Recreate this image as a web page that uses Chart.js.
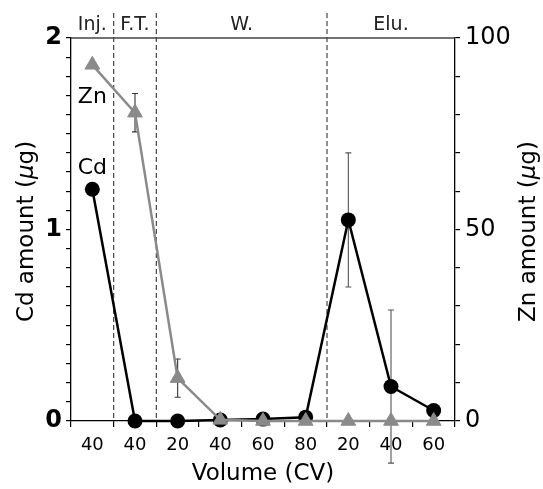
<!DOCTYPE html>
<html>
<head>
<meta charset="utf-8">
<script src="https://cdn.jsdelivr.net/npm/chart.js@4.4.0/dist/chart.umd.min.js"></script>
<style>
  html, body { margin: 0; padding: 0; background: #fff; }
  canvas { display: block; }
</style>
</head>
<body>
<canvas id="chart" width="543" height="489"></canvas>
<script>
// categories (volume in CV) and the run sections they belong to
const categories = ['40', '40', '20', '40', '60', '80', '20', '40', '60'];
const sectionNames = ['Inj.', 'F.T.', 'W.', 'Elu.'];
const sectionFirst = [0, 1, 2, 6];
const sectionLast = [0, 1, 5, 8];

// Cd amount (µg), left axis
const cdValues = [1.21, 0, 0, 0.005, 0.01, 0.02, 1.05, 0.18, 0.055];
const cdErrors = [0, 0, 0, 0, 0, 0, 0.35, 0.4, 0];

// Zn amount (µg), right axis
const znValues = [93, 80.5, 11.2, 0.3, 0, 0, 0, 0, 0];
const znErrors = [0, 5, 5, 0, 0, 0, 0, 0, 0];

// labelled ticks
const cdTickLabels = [0, 1, 2];
const znTickLabels = [0, 50, 100];

const FONT = '"DejaVu Sans", sans-serif';

// error bars from the scales
function drawErrors(ctx, xScale, yScale, values, errors, color) {
    ctx.strokeStyle = color;
    ctx.lineWidth = 1.1;
    values.forEach((v, i) => {
        if (!errors[i]) return;
        const px = xScale.getPixelForValue(i);
        const top = yScale.getPixelForValue(v + errors[i]);
        const bot = yScale.getPixelForValue(v - errors[i]);
        ctx.beginPath();
        ctx.moveTo(px, top); ctx.lineTo(px, bot);
        ctx.moveTo(px - 3, top); ctx.lineTo(px + 3, top);
        ctx.moveTo(px - 3, bot); ctx.lineTo(px + 3, bot);
        ctx.stroke();
    });
}

// rotated axis title with italic mu
function drawRotatedTitle(ctx, x, y, parts, size) {
    ctx.save();
    ctx.translate(x, y);
    ctx.rotate(-Math.PI / 2);
    ctx.textBaseline = 'alphabetic';
    ctx.textAlign = 'left';
    ctx.fillStyle = '#000';
    let total = 0;
    parts.forEach(p => {
        ctx.font = (p.italic ? 'italic ' : '') + size + 'px ' + FONT;
        p.w = ctx.measureText(p.text).width;
        total += p.w;
    });
    let cx = -total / 2;
    parts.forEach(p => {
        ctx.font = (p.italic ? 'italic ' : '') + size + 'px ' + FONT;
        ctx.fillText(p.text, cx, 0);
        cx += p.w;
    });
    ctx.restore();
}

const decorPlugin = {
    id: 'decor',
    beforeDatasetsDraw(chart) {
        const { ctx, chartArea, scales } = chart;
        const x = scales.x;
        ctx.save();

        // section separators
        ctx.strokeStyle = '#444';
        ctx.lineWidth = 1.2;
        ctx.setLineDash([5, 3]);
        for (let i = 0; i < sectionFirst.length - 1; i++) {
            const px = (x.getPixelForValue(sectionLast[i]) + x.getPixelForValue(sectionFirst[i + 1])) / 2;
            ctx.beginPath();
            ctx.moveTo(px, 13);
            ctx.lineTo(px, chartArea.bottom);
            ctx.stroke();
        }
        ctx.setLineDash([]);

        // top frame line
        ctx.strokeStyle = '#444';
        ctx.lineWidth = 1.3;
        ctx.beginPath();
        ctx.moveTo(chartArea.left, chartArea.top);
        ctx.lineTo(chartArea.right, chartArea.top);
        ctx.stroke();

        drawErrors(ctx, x, scales.y, cdValues, cdErrors, '#555');
        drawErrors(ctx, x, scales.y2, znValues, znErrors, '#333');
        ctx.restore();
    },
    afterDraw(chart) {
        const { ctx, chartArea, scales } = chart;
        const x = scales.x;
        ctx.save();

        // section names above the plot
        ctx.fillStyle = '#222';
        ctx.font = '19px ' + FONT;
        ctx.textAlign = 'center';
        ctx.textBaseline = 'alphabetic';
        sectionNames.forEach((name, i) => {
            const cx = (x.getPixelForValue(sectionFirst[i]) + x.getPixelForValue(sectionLast[i])) / 2;
            ctx.fillText(name, cx, 30);
        });

        // series names
        ctx.fillStyle = '#000';
        ctx.font = '22px ' + FONT;
        ctx.fillText('Zn', x.getPixelForValue(0), scales.y2.getPixelForValue(83));
        ctx.fillText('Cd', x.getPixelForValue(0), scales.y.getPixelForValue(1.29));
        ctx.restore();

        const midY = (chartArea.top + chartArea.bottom) / 2 + 2;
        drawRotatedTitle(ctx, chartArea.left - 38, midY,
            [{ text: 'Cd amount (' }, { text: 'µ', italic: true }, { text: 'g)' }], 23);
        drawRotatedTitle(ctx, chartArea.right + 80, midY,
            [{ text: 'Zn amount (' }, { text: 'µ', italic: true }, { text: 'g)' }], 23);
    }
};

function labelIf(list) {
    return function (value) {
        const v = Math.round(value * 10) / 10;
        return list.includes(v) ? String(v) : '';
    };
}

new Chart(document.getElementById('chart'), {
    type: 'line',
    data: {
        labels: categories,
        datasets: [
            {
                label: 'Zn',
                data: znValues,
                yAxisID: 'y2',
                borderColor: '#8a8a8a',
                backgroundColor: '#8a8a8a',
                borderWidth: 2.5,
                pointStyle: 'triangle',
                pointRadius: 8.5,
                pointBorderWidth: 1,
                tension: 0,
                clip: false
            },
            {
                label: 'Cd',
                data: cdValues,
                yAxisID: 'y',
                borderColor: '#000',
                backgroundColor: '#000',
                borderWidth: 2.5,
                pointStyle: 'circle',
                pointRadius: 7.5,
                pointBorderWidth: 0,
                tension: 0,
                clip: false
            }
        ]
    },
    options: {
        responsive: false,
        animation: false,
        layout: { padding: { top: 38, left: 0, right: 0, bottom: 0 } },
        plugins: {
            legend: { display: false },
            tooltip: { enabled: false }
        },
        scales: {
            x: {
                type: 'category',
                offset: true,
                grid: { offset: true, drawOnChartArea: false, tickLength: 6, color: '#000', lineWidth: 1.2 },
                border: { color: '#000', width: 1.3 },
                ticks: { font: { family: FONT, size: 18 }, color: '#000', padding: 8, maxRotation: 0, autoSkip: false },
                title: {
                    display: true,
                    text: 'Volume (CV)',
                    font: { family: FONT, size: 23 },
                    color: '#000',
                    padding: { top: 0, bottom: 1 }
                },
                afterFit: s => { s.height = 68; }
            },
            y: {
                position: 'left',
                min: 0,
                max: 2,
                grid: { drawOnChartArea: false, tickLength: 5, color: '#000', lineWidth: 1.2 },
                border: { color: '#000', width: 1.3 },
                ticks: {
                    stepSize: 0.1,
                    maxTicksLimit: 30,
                    autoSkip: false,
                    callback: labelIf(cdTickLabels),
                    font: { family: FONT, size: 24, weight: 'bold' },
                    color: '#000',
                    padding: 4
                },
                afterFit: s => { s.width = 71; }
            },
            y2: {
                position: 'right',
                min: 0,
                max: 100,
                grid: { drawOnChartArea: false, tickLength: 5, color: '#000', lineWidth: 1.2 },
                border: { color: '#000', width: 1.3 },
                ticks: {
                    stepSize: 10,
                    maxTicksLimit: 30,
                    autoSkip: false,
                    callback: labelIf(znTickLabels),
                    font: { family: FONT, size: 24 },
                    color: '#000',
                    padding: 5
                },
                afterFit: s => { s.width = 88; }
            }
        }
    },
    plugins: [decorPlugin]
});
</script>
</body>
</html>
